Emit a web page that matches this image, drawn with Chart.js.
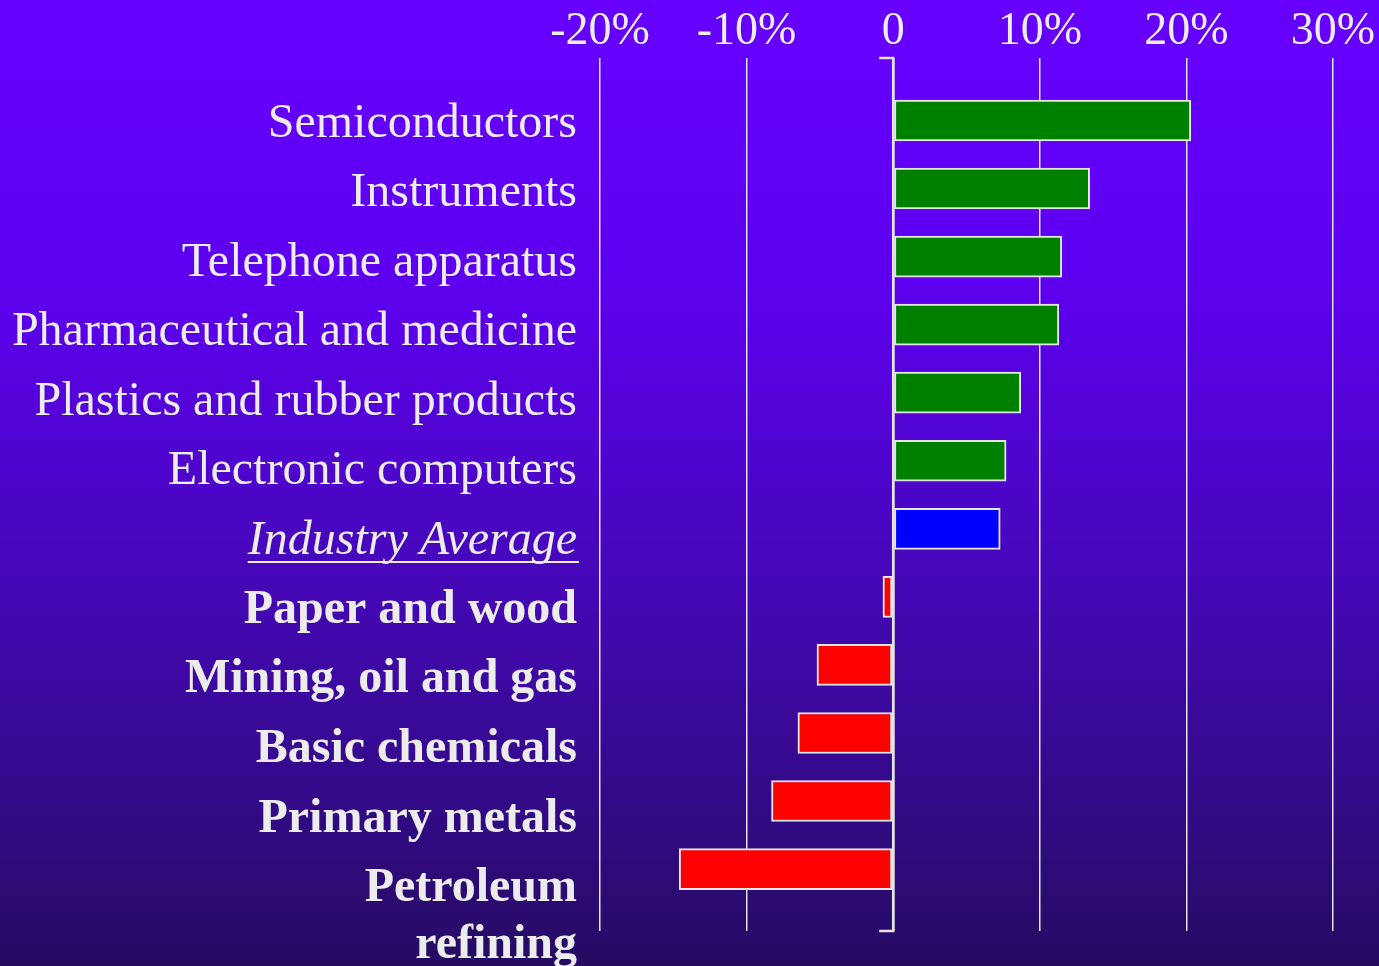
<!DOCTYPE html>
<html>
<head>
<meta charset="utf-8">
<title>Industry growth</title>
<script src="https://cdn.jsdelivr.net/npm/chart.js@4/dist/chart.umd.min.js"></script>
<style>
    html, body { margin: 0; padding: 0; background: #3a06a8; }
    #wrap { width: 1379px; height: 966px; position: relative; }
</style>
</head>
<body>
<div id="wrap"><canvas id="growthChart"></canvas></div>
<script>
// data
const categories = [
    'Semiconductors',
    'Instruments',
    'Telephone apparatus',
    'Pharmaceutical and medicine',
    'Plastics and rubber products',
    'Electronic computers',
    'Industry Average',
    'Paper and wood',
    'Mining, oil and gas',
    'Basic chemicals',
    'Primary metals',
    ['Petroleum', 'refining']
];
const growth = [20.3, 13.4, 11.5, 11.3, 8.7, 7.7, 7.3, -0.7, -5.2, -6.5, -8.3, -14.6];
const xTickValues = [-20, -10, 0, 10, 20, 30];
const xTickLabels = ['-20%', '-10%', '0', '10%', '20%', '30%'];
const averageIndex = 6;

// styles
const serif = "'Liberation Serif', 'Times New Roman', serif";
const labelSize = 48;
const textColor = '#ececec';
const lineColor = '#e4e4e4';

function labelFont(i) {
    if (i === averageIndex) return { family: serif, size: labelSize, style: 'italic', lineHeight: 1.19 };
    if (i > averageIndex) return { family: serif, size: labelSize, weight: 'bold', lineHeight: 1.19 };
    return { family: serif, size: labelSize, lineHeight: 1.19 };
}

function barColor(i) {
    if (i === averageIndex) return '#0000ff';
    return growth[i] >= 0 ? '#008000' : '#ff0000';
}

// background gradient of the slide
const backgroundPlugin = {
    id: 'slideBackground',
    beforeDraw(chart) {
        const ctx = chart.ctx;
        const g = ctx.createLinearGradient(0, 0, 0, chart.height);
        g.addColorStop(0, '#6600ff');
        g.addColorStop(0.3, '#5d00ee');
        g.addColorStop(0.6, '#4508b8');
        g.addColorStop(1, '#250b62');
        ctx.save();
        ctx.fillStyle = g;
        ctx.fillRect(0, 0, chart.width, chart.height);
        ctx.restore();
    }
};

// zero axis brackets and underline under the average label
const decorPlugin = {
    id: 'decor',
    afterDraw(chart) {
        const ctx = chart.ctx;
        const area = chart.chartArea;
        const x0 = chart.scales.x.getPixelForValue(0);
        ctx.save();
        ctx.strokeStyle = lineColor;
        ctx.lineWidth = 2.5;
        ctx.beginPath();
        ctx.moveTo(x0 - 14, area.top);
        ctx.lineTo(x0, area.top);
        ctx.lineTo(x0, area.bottom);
        ctx.lineTo(x0 - 14, area.bottom);
        ctx.stroke();

        const lab = chart.scales.yLab;
        const y = lab.getPixelForValue(averageIndex);
        ctx.font = 'italic ' + labelSize + 'px ' + serif;
        const w = ctx.measureText(categories[averageIndex]).width;
        const right = lab.right - 23;
        ctx.lineWidth = 2;
        ctx.strokeStyle = textColor;
        ctx.beginPath();
        ctx.moveTo(right - w, y + 21);
        ctx.lineTo(right + 2, y + 21);
        ctx.stroke();
        ctx.restore();
    }
};

new Chart(document.getElementById('growthChart'), {
    type: 'bar',
    data: {
        datasets: [{
            data: growth.map((v, i) => ({ x: v, y: i })),
            backgroundColor: growth.map((v, i) => barColor(i)),
            borderColor: '#e6e6e6',
            borderWidth: 2,
            borderSkipped: false,
            barThickness: 41,
            yAxisID: 'y'
        }]
    },
    options: {
        indexAxis: 'y',
        responsive: true,
        maintainAspectRatio: false,
        animation: false,
        layout: { padding: { left: 0, right: 46, top: 0, bottom: 35 } },
        plugins: {
            legend: { display: false },
            tooltip: { enabled: false }
        },
        scales: {
            x: {
                type: 'linear',
                position: 'top',
                min: -20,
                max: 30,
                afterBuildTicks: (scale) => {
                    scale.ticks = xTickValues.map(v => ({ value: v }));
                },
                afterFit: (scale) => {
                    scale.height = 58;
                    scale.paddingLeft = 0;
                    scale.paddingRight = 0;
                },
                ticks: {
                    color: textColor,
                    font: { family: serif, size: 46 },
                    padding: -2,
                    maxRotation: 0,
                    callback: (v) => xTickLabels[xTickValues.indexOf(v)]
                },
                grid: {
                    color: lineColor,
                    lineWidth: (c) => (c.tick && c.tick.value === 0 ? 2.5 : 1.5),
                    drawTicks: false
                },
                border: { display: false }
            },
            y: {
                type: 'linear',
                display: false,
                offset: false,
                reverse: true,
                bounds: 'data',
                min: -0.918,
                max: 11.91,
                grid: { offset: false }
            },
            yLab: {
                type: 'linear',
                position: 'left',
                offset: false,
                reverse: true,
                bounds: 'data',
                min: -0.95,
                max: 11.61,
                afterBuildTicks: (scale) => {
                    scale.ticks = categories.map((c, i) => ({ value: i }));
                },
                afterFit: (scale) => {
                    scale.width = 600;
                    scale.paddingTop = 0;
                    scale.paddingBottom = 0;
                },
                ticks: {
                    autoSkip: false,
                    padding: 23,
                    color: textColor,
                    font: (c) => labelFont(c.index),
                    callback: (v, i) => {
                        const label = categories[i];
                        return Array.isArray(label) ? [''].concat(label) : label;
                    }
                },
                grid: { display: false, drawTicks: false, offset: false },
                border: { display: false }
            }
        }
    },
    plugins: [backgroundPlugin, decorPlugin]
});
</script>
</body>
</html>
